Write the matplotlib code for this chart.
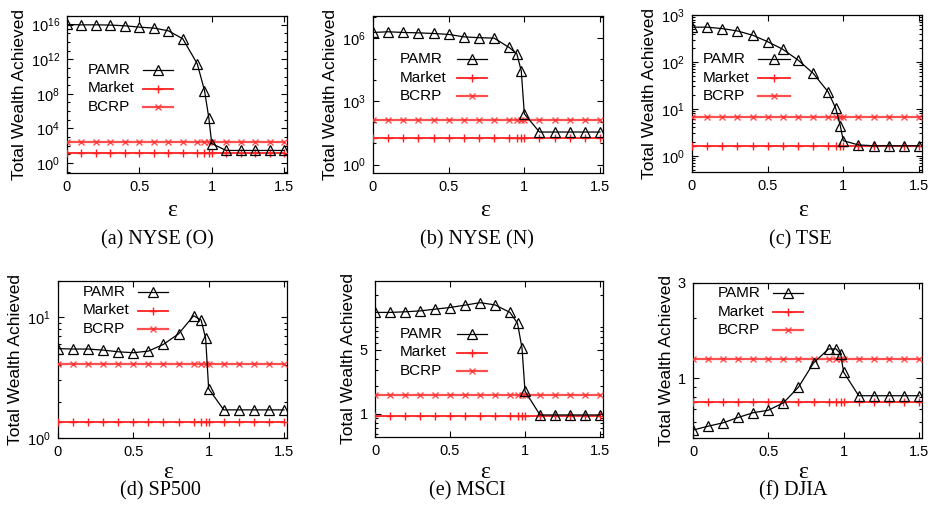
import numpy as np
import matplotlib
matplotlib.use('Agg')
import matplotlib.pyplot as plt
from matplotlib.ticker import FixedLocator, NullFormatter, LogLocator

plt.rcParams['font.family'] = ['Liberation Sans', 'DejaVu Sans']
plt.rcParams['mathtext.fontset'] = 'custom'
plt.rcParams['mathtext.rm'] = 'Liberation Sans'
plt.rcParams['mathtext.it'] = 'Liberation Sans'
plt.rcParams['mathtext.default'] = 'regular'

# ── Data ──────────────────────────────────────────────────────────────────────
eps = [0.0, 0.1, 0.2, 0.3, 0.4, 0.5, 0.6, 0.7, 0.8, 0.9, 0.95, 0.98, 1.0,
       1.1, 1.2, 1.3, 1.4, 1.5]

pamr_nyse_o = [1.05e16, 9.5e15, 9.5e15, 8.9e15, 7.4e15, 5.14e15, 4.0e15, 1.95e15,
               2.3e14, 2.95e11, 2.4e8, 1.6e5, 175, 28, 28, 28, 28, 28]
pamr_nyse_n = [1.86e6, 2.0e6, 1.86e6, 1.78e6, 1.66e6, 1.5e6, 1.15e6, 1.05e6,
               1.0e6, 3.6e5, 1.86e5, 2.75e4, 257, 35, 35, 35, 35, 35]
pamr_tse = [550, 550, 513, 457, 372, 270, 186, 110, 57.5, 22.9, 10.2, 4.37,
            2.09, 1.70, 1.63, 1.63, 1.63, 1.63]
pamr_sp500 = [5.5, 5.46, 5.46, 5.35, 5.18, 5.09, 5.25, 5.97, 7.29, 10.3, 9.5,
              6.7, 2.56, 1.71, 1.71, 1.71, 1.71, 1.71]
pamr_msci = [12.9, 12.9, 13.1, 13.4, 14.0, 14.6, 15.5, 16.5, 15.6, 12.9, 9.8,
             5.25, 1.77, 0.97, 0.97, 0.97, 0.97, 0.97]
pamr_djia = [0.548, 0.573, 0.596, 0.634, 0.67, 0.689, 0.751, 0.90, 1.19, 1.40,
             1.40, 1.32, 1.07, 0.815, 0.815, 0.815, 0.815, 0.815]

market = [15.0, 19.0, 1.61, 1.35, 0.95, 0.76]
bcrp = [260.0, 125.0, 6.8, 4.1, 1.6, 1.25]

series_names = ['PAMR', 'Market', 'BCRP']
captions = ['(a) NYSE (O)', '(b) NYSE (N)', '(c) TSE',
            '(d) SP500', '(e) MSCI', '(f) DJIA']
pamr_all = [pamr_nyse_o, pamr_nyse_n, pamr_tse, pamr_sp500, pamr_msci, pamr_djia]

# y-axis set-up per panel: limits, major ticks, tick labels
ylims = [(10**-1.16, 1e17), (10**-0.4, 10**7.05), (0.45, 1000),
         (1, 20), (0.556, 28.5), (0.5, 3)]
yticks = [[1, 1e4, 1e8, 1e12, 1e16], [1, 1e3, 1e6], [1, 10, 100, 1000],
          [1, 10], [1, 5], [1, 3]]
ytlabels = [[r'$10^{0}$', r'$10^{4}$', r'$10^{8}$', r'$10^{12}$', r'$10^{16}$'],
            [r'$10^{0}$', r'$10^{3}$', r'$10^{6}$'],
            [r'$10^{0}$', r'$10^{1}$', r'$10^{2}$', r'$10^{3}$'],
            [r'$10^{0}$', r'$10^{1}$'], ['1', '5'], ['1', '3']]

# ── Layout in pixels ──────────────────────────────────────────────────────────
W, H = 929, 512
frames = [(67, 287, 16, 173), (373, 603, 16, 173), (692, 922, 15, 172),
          (58, 287, 281, 438), (375, 603, 281, 437), (693, 922, 283, 438)]
# legend: text left x, first row y, sample line x0, x1
legend_pos = [(88, 70, 143, 173), (400, 59, 457, 487), (703, 59, 758, 790),
              (83, 292, 138, 168), (400, 334, 457, 487), (718, 293, 773, 803)]
row_gap = 18.5
caption_pos = [(157, 240), (477, 240), (800, 240), (160, 491), (467, 491), (793, 491)]
eps_pos = [(172, 210), (485, 210), (803, 210), (168, 472), (485, 472), (803, 472)]

styles = [dict(color='black', lw=0.9, marker='^', ms=6.5, mfc='none', mec='black', mew=0.9),
          dict(color='#ff2020', lw=1.3, marker='+', ms=6, mew=1.0),
          dict(color='#ff3030', lw=1.6, alpha=0.85, marker='x', ms=5, mew=1.0)]

fig = plt.figure(figsize=(W / 100, H / 100), dpi=100)

for i in range(6):
    l, r, t, b = frames[i]
    ax = fig.add_axes([l / W, 1 - b / H, (r - l) / W, (b - t) / H])
    n = len(eps)
    ax.plot(eps, pamr_all[i], zorder=4, **styles[0])
    ax.plot(eps, [market[i]] * n, zorder=3, **styles[1])
    ax.plot(eps, [bcrp[i]] * n, zorder=3, **styles[2])

    ax.set_yscale('log')
    ax.set_xlim(0, 1.52)
    ax.set_ylim(*ylims[i])
    ax.yaxis.set_major_locator(FixedLocator(yticks[i]))
    ax.set_yticklabels(ytlabels[i])
    if i < 2:
        ax.yaxis.set_minor_locator(FixedLocator([10.0**k for k in range(-1, 18)]))
    else:
        ax.yaxis.set_minor_locator(LogLocator(base=10, subs=np.arange(2, 10)))
    ax.yaxis.set_minor_formatter(NullFormatter())
    ax.set_xticks([0, 0.5, 1, 1.5])
    ax.set_xticklabels(['0', '0.5', '1', '1.5'])
    ax.tick_params(which='both', direction='in', top=True, right=True,
                   labelsize=10.5, width=0.8)
    ax.tick_params(which='major', length=4.5, pad=5)
    ax.tick_params(which='minor', length=2.5)
    for sp in ax.spines.values():
        sp.set_linewidth(0.9)

    ax.set_ylabel('Total Wealth Achieved', fontsize=12.5, labelpad=3)

    # gnuplot-style key: left-justified text, sample on the right
    tx, ty, x0, x1 = legend_pos[i]
    for k, name in enumerate(series_names):
        yy = 1 - (ty + k * row_gap) / H
        fig.text(tx / W, yy, name, ha='left', va='center', fontsize=11)
        st = dict(styles[k])
        mk = st.pop('marker')
        fig.add_artist(plt.Line2D([x0 / W, x1 / W], [yy, yy], marker=None, **{
            kk: v for kk, v in st.items() if kk not in ('ms', 'mfc', 'mec', 'mew')}))
        fig.add_artist(plt.Line2D([(x0 + x1) / 2 / W], [yy], marker=mk, ls='none', **{
            kk: v for kk, v in st.items() if kk != 'lw'}))

    ex, ey = eps_pos[i]
    fig.text(ex / W, 1 - ey / H, 'ε', ha='center', va='center',
             family='Liberation Serif', fontsize=17)
    cx, cy = caption_pos[i]
    fig.text(cx / W, 1 - cy / H, captions[i], ha='center', va='center',
             family='Liberation Serif', fontsize=14.5)

fig.savefig('out.png', dpi=100)
